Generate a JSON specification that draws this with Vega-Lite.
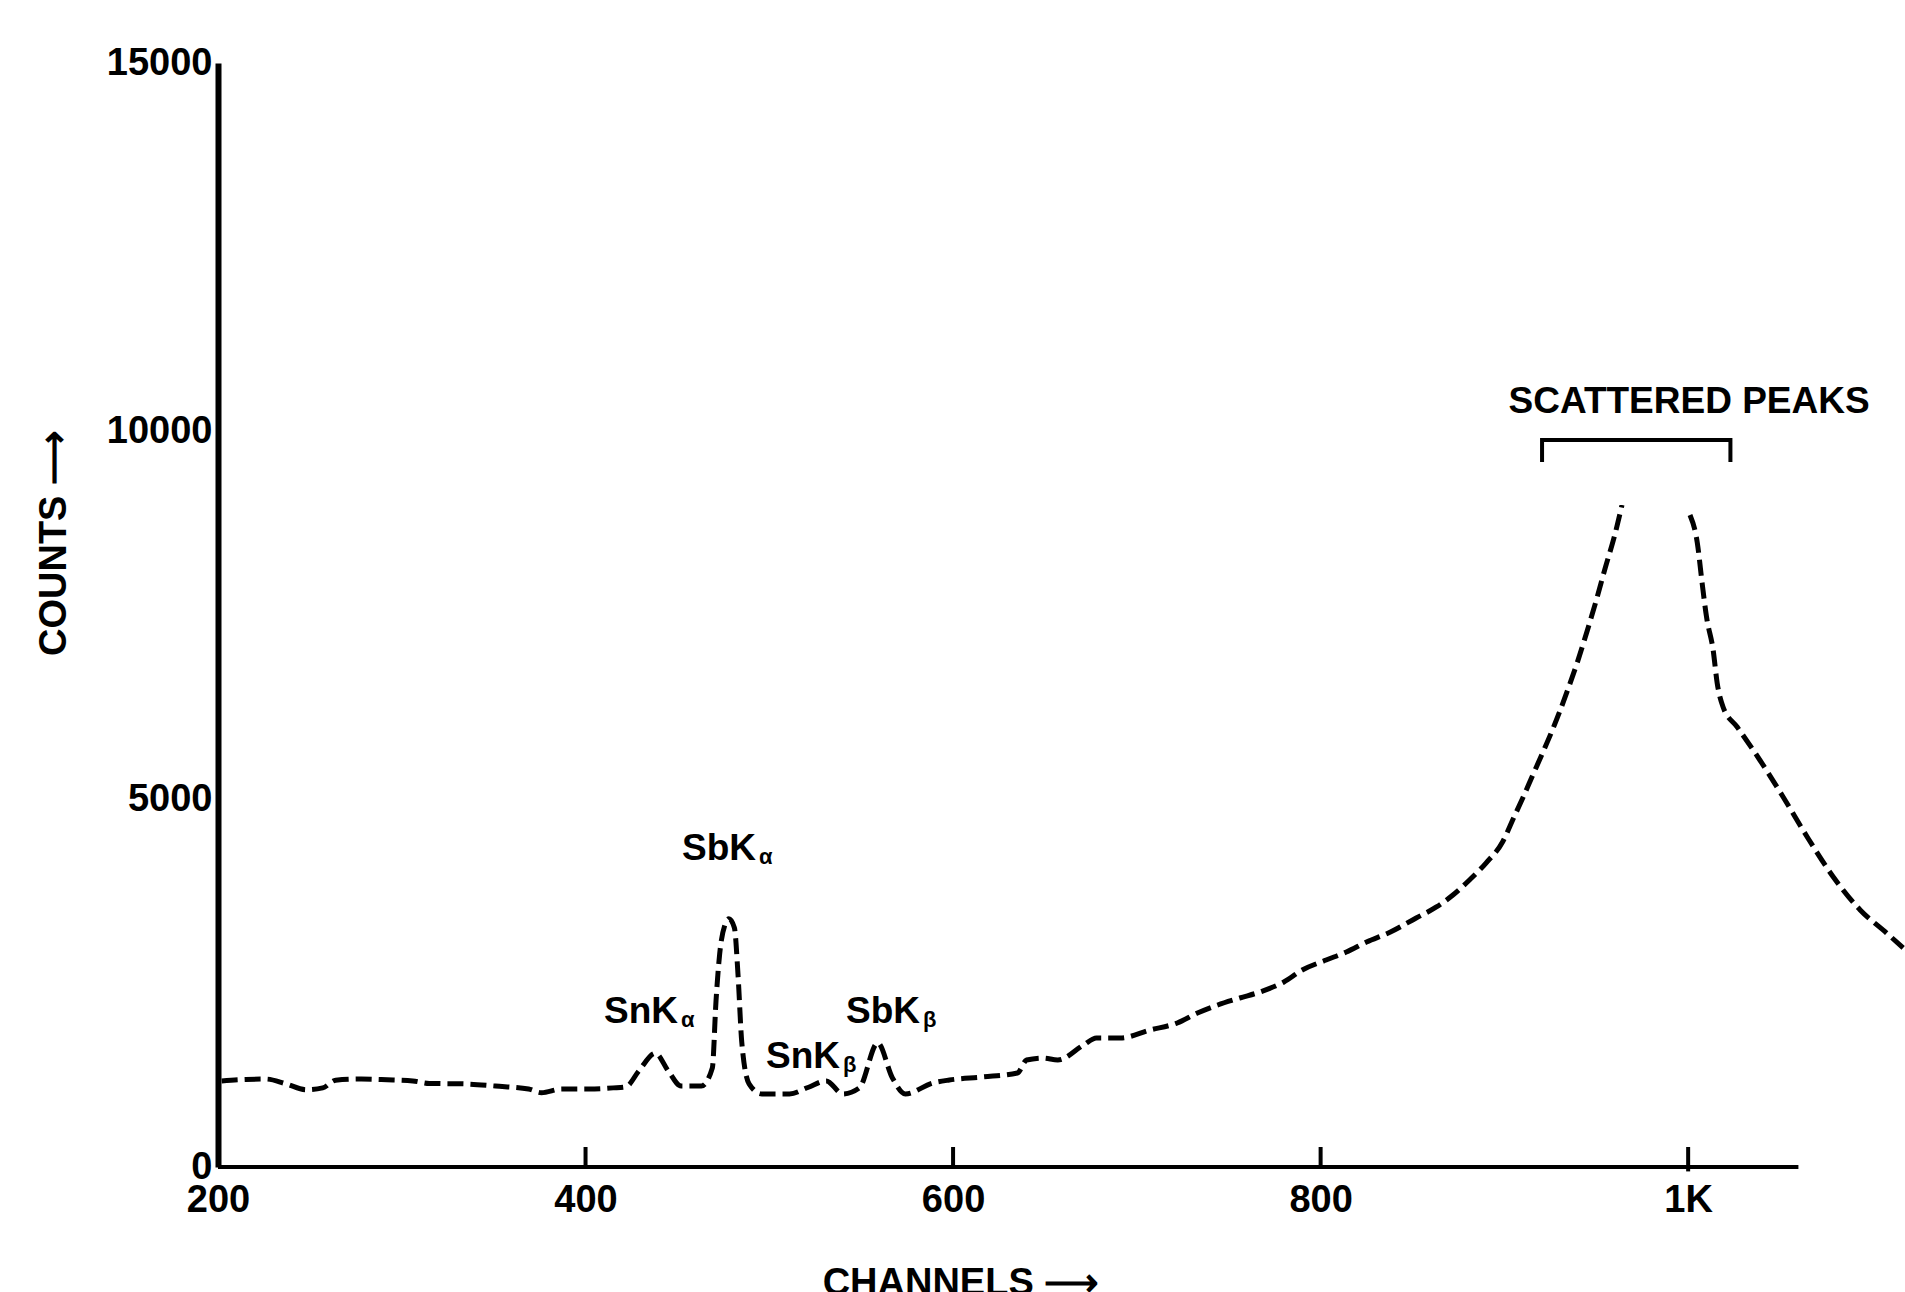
{
  "$schema": "https://vega.github.io/schema/vega-lite/v6.json",
  "width": 1687,
  "height": 1104,
  "autosize": {"type": "none"},
  "padding": {"left": 218, "top": 63, "right": 0, "bottom": 125},
  "background": "white",
  "config": {"view": {"stroke": null}, "font": "Liberation Sans", "axis": {"grid": false}},
  "datasets": {
    "spectrum": [
      {"part": "a", "ch": 202, "counts": 1170},
      {"part": "a", "ch": 215, "counts": 1190},
      {"part": "a", "ch": 226, "counts": 1195},
      {"part": "a", "ch": 237, "counts": 1130},
      {"part": "a", "ch": 248, "counts": 1050},
      {"part": "a", "ch": 257, "counts": 1075},
      {"part": "a", "ch": 264, "counts": 1180},
      {"part": "a", "ch": 278, "counts": 1195},
      {"part": "a", "ch": 292, "counts": 1185},
      {"part": "a", "ch": 306, "counts": 1170},
      {"part": "a", "ch": 315, "counts": 1135},
      {"part": "a", "ch": 333, "counts": 1130},
      {"part": "a", "ch": 351, "counts": 1100},
      {"part": "a", "ch": 369, "counts": 1060},
      {"part": "a", "ch": 376, "counts": 1010},
      {"part": "a", "ch": 387, "counts": 1060},
      {"part": "a", "ch": 402, "counts": 1060},
      {"part": "a", "ch": 415, "counts": 1075},
      {"part": "a", "ch": 422, "counts": 1090},
      {"part": "a", "ch": 429, "counts": 1305},
      {"part": "a", "ch": 438, "counts": 1545},
      {"part": "a", "ch": 445, "counts": 1305},
      {"part": "a", "ch": 452, "counts": 1100},
      {"part": "a", "ch": 463, "counts": 1100},
      {"part": "a", "ch": 469, "counts": 1346},
      {"part": "a", "ch": 471, "counts": 2257},
      {"part": "a", "ch": 473, "counts": 2897},
      {"part": "a", "ch": 476, "counts": 3300},
      {"part": "a", "ch": 478, "counts": 3373},
      {"part": "a", "ch": 481, "counts": 3250},
      {"part": "a", "ch": 483, "counts": 2600},
      {"part": "a", "ch": 485, "counts": 1700},
      {"part": "a", "ch": 489, "counts": 1130},
      {"part": "a", "ch": 496, "counts": 993},
      {"part": "a", "ch": 511, "counts": 993},
      {"part": "a", "ch": 521, "counts": 1080},
      {"part": "a", "ch": 531, "counts": 1170},
      {"part": "a", "ch": 540, "counts": 993},
      {"part": "a", "ch": 549, "counts": 1075},
      {"part": "a", "ch": 559, "counts": 1686},
      {"part": "a", "ch": 567, "counts": 1210},
      {"part": "a", "ch": 574, "counts": 993},
      {"part": "a", "ch": 589, "counts": 1142},
      {"part": "a", "ch": 598, "counts": 1182},
      {"part": "a", "ch": 616, "counts": 1223},
      {"part": "a", "ch": 635, "counts": 1277},
      {"part": "a", "ch": 640, "counts": 1454},
      {"part": "a", "ch": 649, "counts": 1481},
      {"part": "a", "ch": 657, "counts": 1454},
      {"part": "a", "ch": 671, "counts": 1658},
      {"part": "a", "ch": 678, "counts": 1753},
      {"part": "a", "ch": 691, "counts": 1753},
      {"part": "a", "ch": 707, "counts": 1861},
      {"part": "a", "ch": 722, "counts": 1957},
      {"part": "a", "ch": 733, "counts": 2092},
      {"part": "a", "ch": 744, "counts": 2201},
      {"part": "a", "ch": 756, "counts": 2296},
      {"part": "a", "ch": 767, "counts": 2378},
      {"part": "a", "ch": 780, "counts": 2514},
      {"part": "a", "ch": 790, "counts": 2677},
      {"part": "a", "ch": 803, "counts": 2812},
      {"part": "a", "ch": 814, "counts": 2921},
      {"part": "a", "ch": 825, "counts": 3057},
      {"part": "a", "ch": 838, "counts": 3193},
      {"part": "a", "ch": 852, "counts": 3383},
      {"part": "a", "ch": 863, "counts": 3533},
      {"part": "a", "ch": 872, "counts": 3696},
      {"part": "a", "ch": 881, "counts": 3900},
      {"part": "a", "ch": 890, "counts": 4130},
      {"part": "a", "ch": 899, "counts": 4416},
      {"part": "a", "ch": 905, "counts": 4742},
      {"part": "a", "ch": 910, "counts": 5014},
      {"part": "a", "ch": 915, "counts": 5299},
      {"part": "a", "ch": 921, "counts": 5639},
      {"part": "a", "ch": 926, "counts": 5930},
      {"part": "a", "ch": 930, "counts": 6182},
      {"part": "a", "ch": 935, "counts": 6520},
      {"part": "a", "ch": 940, "counts": 6880},
      {"part": "a", "ch": 945, "counts": 7280},
      {"part": "a", "ch": 950, "counts": 7700},
      {"part": "a", "ch": 955, "counts": 8150},
      {"part": "a", "ch": 960, "counts": 8580},
      {"part": "a", "ch": 964, "counts": 8995},
      {"part": "b", "ch": 1001, "counts": 8859},
      {"part": "b", "ch": 1005, "counts": 8478},
      {"part": "b", "ch": 1007.6, "counts": 7935},
      {"part": "b", "ch": 1010, "counts": 7473},
      {"part": "b", "ch": 1013.6, "counts": 7024},
      {"part": "b", "ch": 1015.8, "counts": 6576},
      {"part": "b", "ch": 1019, "counts": 6250},
      {"part": "b", "ch": 1026.7, "counts": 5978},
      {"part": "b", "ch": 1039, "counts": 5530},
      {"part": "b", "ch": 1051.7, "counts": 5027},
      {"part": "b", "ch": 1064.8, "counts": 4484},
      {"part": "b", "ch": 1079, "counts": 3940},
      {"part": "b", "ch": 1093.6, "counts": 3492},
      {"part": "b", "ch": 1108, "counts": 3179},
      {"part": "b", "ch": 1117, "counts": 2976}
    ],
    "bracket": [
      {"o": 1, "ch": 920.5, "counts": 9579},
      {"o": 2, "ch": 920.5, "counts": 9878},
      {"o": 3, "ch": 1023, "counts": 9878},
      {"o": 4, "ch": 1023, "counts": 9579}
    ],
    "peaks": [
      {"main": "SnK", "sub": "α", "ch": 450.3, "counts": 1957},
      {"main": "SbK", "sub": "α", "ch": 492.8, "counts": 4171},
      {"main": "SnK", "sub": "β", "ch": 538.5, "counts": 1345},
      {"main": "SbK", "sub": "β", "ch": 582, "counts": 1957}
    ],
    "note": [
      {"t": "SCATTERED PEAKS", "ch": 1000.5, "counts": 10245}
    ],
    "baseline": [
      {"ch": 200, "ch2": 1060, "counts": 0}
    ],
    "ticks": [
      {"ch": 400, "counts": 0, "c2": 272},
      {"ch": 600, "counts": 0, "c2": 272},
      {"ch": 800, "counts": 0, "c2": 272},
      {"ch": 1000, "counts": -60, "c2": 272}
    ]
  },
  "layer": [
    {
      "data": {"name": "spectrum"},
      "mark": {"type": "line", "color": "black", "strokeWidth": 5, "strokeDash": [16, 7], "interpolate": "monotone", "strokeCap": "butt"},
      "encoding": {
        "x": {
          "field": "ch", "type": "quantitative",
          "scale": {"domain": [200, 1118], "nice": false, "zero": false},
          "axis": {
            "values": [200, 400, 600, 800, 1000],
            "format": "d",
            "labelExpr": "datum.value == 1000 ? '1K' : datum.label",
            "domain": false,
            "ticks": false,
            "labelFlush": false,
            "labelFont": "Liberation Sans",
            "labelFontSize": 38,
            "labelFontWeight": "bold",
            "labelColor": "black",
            "labelPadding": 14,
            "title": "CHANNELS ⟶",
            "titleFont": "Liberation Sans",
            "titleFontSize": 38,
            "titleFontWeight": "bold",
            "titleColor": "black",
            "titleX": 742,
            "titleY": 97,
            "titleAlign": "center",
            "titleBaseline": "top"
          }
        },
        "y": {
          "field": "counts", "type": "quantitative",
          "scale": {"domain": [0, 15000], "nice": false},
          "axis": {
            "values": [0, 5000, 10000, 15000],
            "format": "d",
            "domainColor": "black",
            "domainWidth": 6,
            "ticks": false,
            "labelFont": "Liberation Sans",
            "labelFontSize": 38,
            "labelFontWeight": "bold",
            "labelColor": "black",
            "labelPadding": 6,
            "title": "COUNTS ⟶",
            "titleFont": "Liberation Sans",
            "titleFontSize": 38,
            "titleFontWeight": "bold",
            "titleColor": "black",
            "titleAngle": -90,
            "titleX": -164,
            "titleY": 480,
            "titleAlign": "center",
            "titleBaseline": "middle"
          }
        },
        "detail": {"field": "part", "type": "nominal"}
      }
    },
    {
      "data": {"name": "baseline"},
      "mark": {"type": "rule", "color": "black", "strokeWidth": 4},
      "encoding": {
        "x": {"field": "ch", "type": "quantitative"},
        "x2": {"field": "ch2"},
        "y": {"field": "counts", "type": "quantitative"}
      }
    },
    {
      "data": {"name": "ticks"},
      "mark": {"type": "rule", "color": "black", "strokeWidth": 4},
      "encoding": {
        "x": {"field": "ch", "type": "quantitative"},
        "y": {"field": "counts", "type": "quantitative"},
        "y2": {"field": "c2"}
      }
    },
    {
      "data": {"name": "bracket"},
      "mark": {"type": "line", "color": "black", "strokeWidth": 4},
      "encoding": {
        "x": {"field": "ch", "type": "quantitative"},
        "y": {"field": "counts", "type": "quantitative"},
        "order": {"field": "o", "type": "quantitative"}
      }
    },
    {
      "data": {"name": "peaks"},
      "mark": {"type": "text", "align": "right", "baseline": "alphabetic", "font": "Liberation Sans", "fontSize": 37, "fontWeight": "bold", "color": "black"},
      "encoding": {
        "x": {"field": "ch", "type": "quantitative"},
        "y": {"field": "counts", "type": "quantitative"},
        "text": {"field": "main"}
      }
    },
    {
      "data": {"name": "peaks"},
      "mark": {"type": "text", "align": "left", "baseline": "alphabetic", "font": "Liberation Sans", "fontSize": 22, "fontWeight": "bold", "color": "black", "dx": 3, "dy": 4},
      "encoding": {
        "x": {"field": "ch", "type": "quantitative"},
        "y": {"field": "counts", "type": "quantitative"},
        "text": {"field": "sub"}
      }
    },
    {
      "data": {"name": "note"},
      "mark": {"type": "text", "align": "center", "baseline": "alphabetic", "font": "Liberation Sans", "fontSize": 37, "fontWeight": "bold", "color": "black"},
      "encoding": {
        "x": {"field": "ch", "type": "quantitative"},
        "y": {"field": "counts", "type": "quantitative"},
        "text": {"field": "t"}
      }
    }
  ]
}
